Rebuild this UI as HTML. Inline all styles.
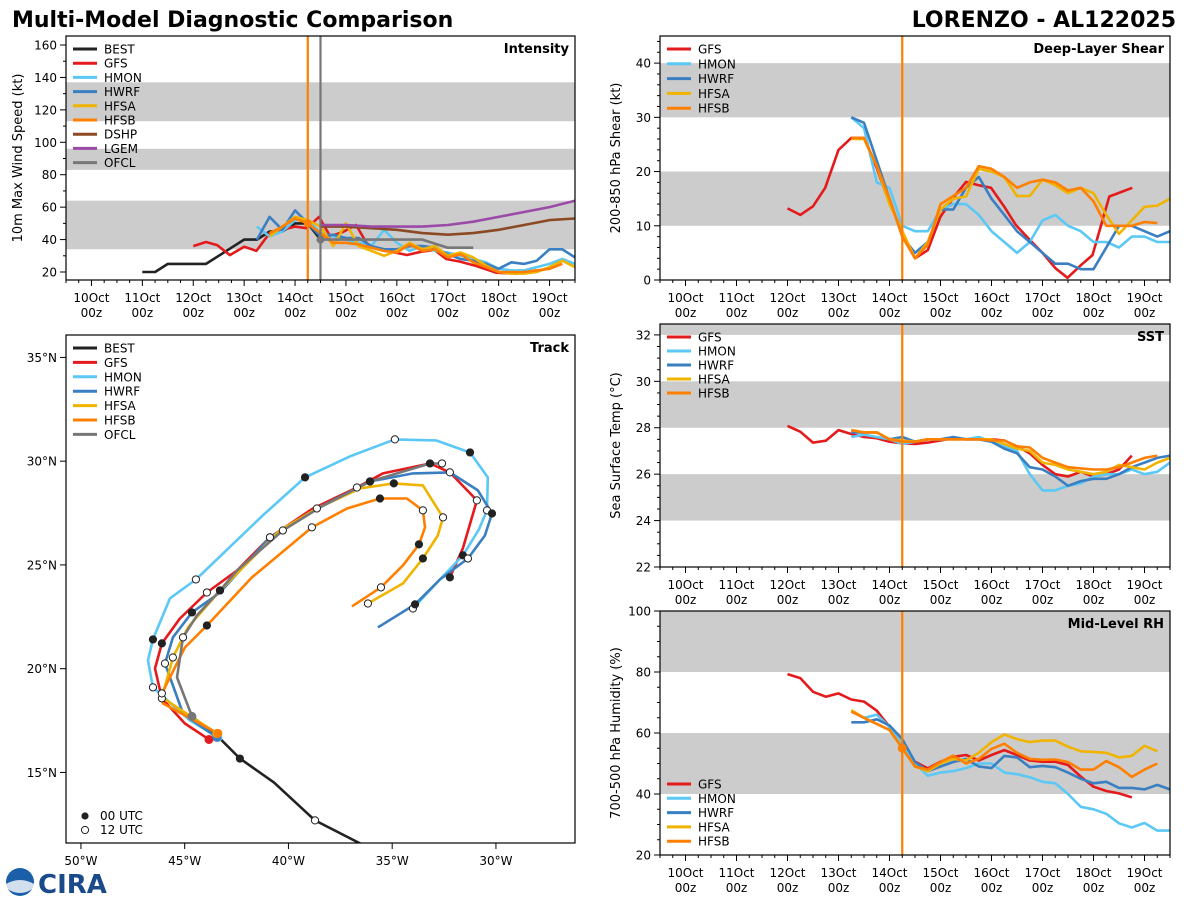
<!DOCTYPE html>
<html><head><meta charset="utf-8"><style>
body{margin:0;background:#fff}
svg{display:block;font-family:"DejaVu Sans","Liberation Sans",sans-serif}
</style></head><body>
<svg id="s" width="1200" height="900" xmlns="http://www.w3.org/2000/svg">
<text x="12" y="27" font-size="22" font-weight="bold">Multi-Model Diagnostic Comparison</text>
<text x="1176" y="27" font-size="22" font-weight="bold" text-anchor="end">LORENZO - AL122025</text>
<g>
<circle cx="20" cy="882" r="14" fill="#1a5fa8"/><path d="M6 884 Q20 876 34 884 L34 888 Q20 898 6 888Z" fill="#fff" opacity="0.8"/>
<text x="38" y="893" font-size="26" font-weight="bold" fill="#1a4a8a">CIRA</text>
</g>
</svg>
<script>
const C={BEST:'#222222',GFS:'#e41a1c',HMON:'#5bc8f5',HWRF:'#3a7fc1',HFSA:'#f0b400',HFSB:'#ff7f00',DSHP:'#8b4a24',LGEM:'#9b4aa8',OFCL:'#777777'};
// Intensity (kt)
const intBestD=[11,11.25,11.5,11.75,12,12.25,12.5,12.75,13,13.25,13.5,13.75,14,14.25,14.5];
const intBestV=[20,20,25,25,25,25,30,35,40,40,45,45,50,50,40];
const intGfsD=[12,12.25,12.47,12.72,13,13.24,13.5,13.74,14,14.23,14.47,14.69,14.94,15.2,15.43,15.72,16.2,16.48,16.74,16.97,17.24,17.56,17.95,18.35,18.74];
const intGfsV=[36,38.5,36.6,30.4,35.6,33,44,46,48,47,54,42,44.7,49,36.6,33.6,30.5,32.5,33.6,28,26.4,23.7,19.6,19,21];
const intHmonD=[13.25,13.5,13.75,14,14.25,14.5,14.75,15,15.25,15.5,15.75,16,16.25,16.5,16.75,17,17.25,17.5,17.75,18,18.25,18.5,18.75,19,19.25,19.5];
const intHmonV=[48,42,45,52,52,44,42,40,38,36,46,38,33,36,33,32,30,28,26,22,21,21,23,25,28,25];
const intHwrfD=intHmonD;
const intHwrfV=[40,54,46,58,50,42,43,41,41,36,34,34,36,36,35,31,28,27,25,22,26,25,27,34,34,29];
const intHfsaD=[13.5,13.75,14,14.25,14.5,14.75,15,15.25,15.5,15.75,16,16.25,16.5,16.75,17,17.25,17.5,17.75,18,18.25,18.5,18.75,19,19.25,19.5];
const intHfsaV=[42,48,54,52,48,36,50,36,33,30,33,38,34,36,30,32,29,24,20,19,19,20,23,27,23];
const intHfsbD=[13.5,13.75,14,14.25,14.5,14.75,15,15.25,15.5,15.75,16,16.25,16.5,16.75,17,17.25,17.5,17.75,18,18.25,18.5,18.75,19,19.25];
const intHfsbV=[44,48,53,50,44,38,38,37,35,33,32,37,33,34,29,31,26,23,20,20,20,21,22,25];
const intDshpD=[14.5,15,15.5,16,16.5,17,17.5,18,18.5,19,19.5];
const intDshpV=[48,48,47,46,44,43,44,46,49,52,53];
const intLgemD=intDshpD;
const intLgemV=[49,49,48,48,48,49,51,54,57,60,64];
const intOfclD=[14.5,15,15.5,16,16.5,17,17.5];
const intOfclV=[40,40,40,40,40,35,35];
// Shear (kt)
const shGfsD=[12,12.25,12.5,12.74,13,13.25,13.5,13.74,13.98,14.25,14.5,14.75,15,15.27,15.5,15.74,15.99,16.25,16.48,16.75,17,17.25,17.49,17.76,17.98,18.31,18.76];
const shGfsV=[13.2,12,13.6,17,24,26.2,26.2,20.9,14.7,8.9,4,5.5,11.7,15.4,18.1,17.5,17,13.5,10.1,7.4,5,2.2,0.4,2.8,4.6,15.4,17];
const shD=[13.25,13.5,13.75,14,14.25,14.5,14.75,15,15.25,15.5,15.75,16,16.25,16.5,16.75,17,17.25,17.5,17.75,18,18.25,18.5,18.75,19,19.25,19.5];
const shHwrfV=[30,29,22,15,8,5,7,13,13,17,19,15,12,9,7,5,3,3,2,2,6,10,10,9,8,9];
const shHmonV=[30,28,18,17,10,9,9,13,14,14,12,9,7,5,7,11,12,10,9,7,7,6,8,8,7,7];
const shHfsaV=[26,26,21,14,9,4,7,13,15,15.4,20.5,20,19,15.5,15.5,18.5,17.5,16,17,16,12,8.5,11,13.5,13.7,15];
const shHfsbV=[26.2,26.2,21,15,8,4,6.5,14,15.5,17,21,20.5,19,17,18,18.5,18,16.5,17,14.5,10,10,10,10.7,10.5];
// SST (C)
const sstGfsD=[12,12.25,12.5,12.75,13,13.25,13.5,13.75,14,14.25,14.5,14.75,15,15.25,15.5,15.75,16,16.25,16.5,16.75,17,17.25,17.5,17.75,18,18.25,18.5,18.75];
const sstGfsV=[28.08,27.83,27.36,27.44,27.9,27.73,27.6,27.55,27.4,27.33,27.3,27.36,27.45,27.55,27.5,27.5,27.5,27.45,27.2,26.9,26.4,26.0,25.9,26.1,25.9,26.0,26.2,26.8];
const sstHmonV=[27.6,27.7,27.6,27.5,27.3,27.4,27.5,27.5,27.5,27.5,27.6,27.4,27.2,27.0,26.0,25.3,25.3,25.5,25.6,25.9,26.0,26.0,26.2,26.0,26.1,26.5];
const sstHwrfV=[27.8,27.8,27.8,27.5,27.6,27.4,27.5,27.5,27.6,27.5,27.5,27.4,27.1,26.9,26.3,26.2,25.9,25.5,25.7,25.8,25.8,26.0,26.3,26.5,26.7,26.8];
const sstHfsaV=[27.9,27.8,27.8,27.5,27.45,27.4,27.5,27.5,27.5,27.5,27.5,27.5,27.3,27.1,27.0,26.5,26.4,26.2,26.1,26.0,26.1,26.4,26.3,26.2,26.5,26.7];
const sstHfsbV=[27.9,27.8,27.8,27.5,27.4,27.4,27.5,27.5,27.5,27.5,27.5,27.45,27.45,27.2,27.15,26.7,26.5,26.3,26.25,26.2,26.2,26.3,26.5,26.7,26.8];
// RH (%)
const rhGfsV=[79.3,78,73.5,71.9,73,71,70.3,67.3,62,56,50.6,48.4,50.6,52.2,52.8,51,52.8,54.4,52.8,51,50.6,50.6,49.5,45.7,42.4,41,40.2,38.9];
const rhHmonV=[67,65,66,62,56,50,46,47,47.5,48.5,50,50,47,46.5,45.5,44,43.5,40,35.8,35,33.5,30.4,29,30.5,28,28];
const rhHwrfV=[63.5,63.5,64.5,62.5,58,50.5,47.5,49,50.5,51.5,49,48.5,52.5,52,48.8,49.2,48.8,47,45,43.5,44,42,42,41.5,43,41.5];
const rhHfsaV=[67.5,65,63,61,55,49,47.5,50,51.5,51,53.5,57,59.5,58,57,57.5,57.5,55.5,54,53.8,53.5,52,52.5,55.8,54];
const rhHfsbV=[67,65,63,61,55,49,48,50.5,52.6,50,51.5,54.8,56.5,53.5,51.5,51.2,51.3,50.5,48,48,50.8,48.8,45.6,48,50];
// Track (lon, lat)
const trBestLon=[-35.6,-36.55,-38.72,-40.7,-42.34,-43.4,-44.65];
const trBestLat=[10.9,11.58,12.69,14.52,15.67,16.73,17.70];
const trGfsLon=[-43.83,-44.99,-46.10,-46.43,-46.10,-45.23,-43.93,-42.48,-40.89,-38.82,-36.70,-35.45,-33.18,-32.22,-30.92,-31.59,-32.22];
const trGfsLat=[16.59,17.36,18.57,20.01,21.22,22.42,23.67,24.73,26.33,27.72,28.73,29.41,29.89,29.46,28.11,25.80,24.40];
const trHmonLon=[-43.40,-44.75,-46.53,-46.77,-46.53,-45.71,-44.46,-41.23,-39.20,-37.04,-34.87,-32.89,-31.25,-30.39,-30.43,-30.82,-31.59,-32.70,-34.0];
const trHmonLat=[16.69,17.51,19.10,20.40,21.41,23.39,24.30,27.39,29.22,30.23,31.05,31.00,30.42,29.22,27.63,26.71,25.46,24.30,22.90];
const trHwrfLon=[-43.45,-45.08,-45.95,-45.57,-44.65,-43.30,-40.89,-38.63,-36.07,-34.0,-32.22,-30.87,-30.19,-30.53,-31.35,-32.70,-33.90,-35.69];
const trHwrfLat=[16.69,17.84,20.25,21.51,22.71,23.67,26.33,27.72,29.02,29.41,29.46,28.59,27.48,26.42,25.31,24.30,23.10,21.99];
const trHfsaLon=[-43.45,-46.10,-45.57,-44.84,-43.30,-40.41,-38.63,-36.55,-34.92,-33.52,-32.55,-32.80,-33.52,-34.48,-36.17];
const trHfsaLat=[16.88,18.61,20.54,21.99,23.77,26.66,27.72,28.69,28.93,28.83,27.29,26.42,25.31,24.11,23.14];
const trHfsbLon=[-43.40,-46.05,-46.10,-44.99,-43.93,-41.76,-38.87,-37.18,-35.59,-34.29,-33.52,-33.42,-33.71,-34.48,-35.54,-36.94];
const trHfsbLat=[16.88,18.33,18.81,21.02,22.08,24.40,26.81,27.72,28.20,28.20,27.63,26.81,25.99,24.98,23.92,23.0];
const trOfclLon=[-44.65,-45.37,-45.08,-44.41,-43.30,-42.48,-40.27,-38.48,-36.07,-33.18,-32.60];
const trOfclLat=[17.70,19.58,21.51,22.57,23.77,24.73,26.66,27.77,29.02,29.89,29.89];
const dayTicks=['10Oct','11Oct','12Oct','13Oct','14Oct','15Oct','16Oct','17Oct','18Oct','19Oct'];
const lonTicks=[-50,-45,-40,-35,-30];
const latTicks=[15,20,25,30,35];

const svg=document.getElementById('s');
const NS='http://www.w3.org/2000/svg';
function mk(tag,a,parent){const e=document.createElementNS(NS,tag);for(const k in a)e.setAttribute(k,a[k]);(parent||svg).appendChild(e);return e;}
let clipN=0;
function panel(p){
  const g=mk('g',{});
  
  
  p.g=g;
  p.sx=v=>p.x0+(v-p.xmin)/(p.xmax-p.xmin)*(p.x1-p.x0);
  p.sy=v=>p.y1-(v-p.ymin)/(p.ymax-p.ymin)*(p.y1-p.y0);
  const id='c'+(clipN++);
  const cp=mk('clipPath',{id:id},g);mk('rect',{x:p.x0,y:p.y0,width:p.x1-p.x0,height:p.y1-p.y0},cp);
  p.inner=mk('g',{'clip-path':'url(#'+id+')'},g);
  (p.bands||[]).forEach(b=>{const r=mk('rect',{x:p.x0,y:p.sy(b[1]),width:p.x1-p.x0,height:p.sy(b[0])-p.sy(b[1]),fill:'#cccccc'},p.inner);
    });
  return p;
}
function frame(p){mk('rect',{x:p.x0,y:p.y0,width:p.x1-p.x0,height:p.y1-p.y0,fill:'none',stroke:'#000','stroke-width':1.2},p.g);}
function line(p,xs,ys,col,w,name){
  const pts=xs.map((x,i)=>p.sx(x).toFixed(1)+','+p.sy(ys[i]).toFixed(1)).join(' ');
  const l=mk('polyline',{points:pts,fill:'none',stroke:col,'stroke-width':w||2.6,'stroke-linejoin':'round'},p.inner);
  
  
  return l;
}
function dayAxis(p){
  for(let d=p.xmin;d<=p.xmax+1e-6;d+=0.25){const x=p.sx(d);const maj=Math.abs(d-Math.round(d))<1e-6;
    mk('line',{x1:x,x2:x,y1:p.y1,y2:p.y1+(maj?6:3),stroke:'#000','stroke-width':1},p.g);}
  dayTicks.forEach((t,i)=>{const x=p.sx(10+i);
    const a=mk('text',{x:x,y:p.y1+22,'font-size':12,'text-anchor':'middle'},p.g);a.textContent=t;
    
    const b=mk('text',{x:x,y:p.y1+37,'font-size':12,'text-anchor':'middle'},p.g);b.textContent='00z';
    });
}
function yAxis(p,step,minor,title,tx){
  for(let v=Math.ceil(p.ymin/minor)*minor;v<=p.ymax+1e-6;v+=minor){const y=p.sy(v);const maj=Math.abs(v/step-Math.round(v/step))<1e-6;
    mk('line',{x1:p.x0,x2:p.x0-(maj?6:3),y1:y,y2:y,stroke:'#000','stroke-width':1},p.g);
    if(maj){const t=mk('text',{x:p.x0-9,y:y+4.5,'font-size':12,'text-anchor':'end'},p.g);t.textContent=Math.round(v);
      }}
  const cy=(p.y0+p.y1)/2;const t=mk('text',{x:tx,y:cy,'font-size':13,'text-anchor':'middle',transform:'rotate(-90 '+tx+' '+cy+')'},p.g);t.textContent=title;
  
}
function ptitle(p,txt){const t=mk('text',{x:p.x1-6,y:p.y0+17,'font-size':13,'font-weight':'bold','text-anchor':'end'},p.g);t.textContent=txt;
  }
function legend(p,names,dy){
  names.forEach((n,i)=>{const y=p.y0+13+i*dy;
    const g=mk('g',{},p.g);
    
    
    mk('line',{x1:p.x0+7,x2:p.x0+31,y1:y,y2:y,stroke:C[n],'stroke-width':3},g);
    const t=mk('text',{x:p.x0+38,y:y+4.5,'font-size':12},g);t.textContent=n;});
}
function vline(p,d,col){const x=p.sx(d);const l=mk('line',{x1:x,x2:x,y1:p.y0,y2:p.y1,stroke:col,'stroke-width':2.2},p.inner);
  }

// Intensity
const P1=panel({name:'intensity-panel',x0:66,x1:575,y0:36,y1:280,xmin:9.5,xmax:19.5,ymin:15.07,ymax:165.55,bands:[[34,64],[83,96],[113,137]]});
line(P1,intBestD,intBestV,C.BEST,2.6,'best-intensity-line');
line(P1,intGfsD,intGfsV,C.GFS,2.6,'gfs-intensity-line');
line(P1,intHmonD,intHmonV,C.HMON,2.6,'hmon-intensity-line');
line(P1,intHwrfD,intHwrfV,C.HWRF,2.6,'hwrf-intensity-line');
line(P1,intHfsaD,intHfsaV,C.HFSA,2.6,'hfsa-intensity-line');
line(P1,intHfsbD,intHfsbV,C.HFSB,2.6,'hfsb-intensity-line');
line(P1,intDshpD,intDshpV,C.DSHP,2.6,'dshp-intensity-line');
line(P1,intLgemD,intLgemV,C.LGEM,2.6,'lgem-intensity-line');
line(P1,intOfclD,intOfclV,C.OFCL,2.6,'ofcl-intensity-line');
vline(P1,14.25,'#ff7f00');vline(P1,14.5,'#777');
mk('circle',{cx:P1.sx(14.25),cy:P1.sy(50),r:4,fill:'#ff7f00'},P1.inner);
mk('circle',{cx:P1.sx(14.5),cy:P1.sy(40),r:4,fill:'#777'},P1.inner);
frame(P1);dayAxis(P1);yAxis(P1,20,10,'10m Max Wind Speed (kt)',22);ptitle(P1,'Intensity');
legend(P1,['BEST','GFS','HMON','HWRF','HFSA','HFSB','DSHP','LGEM','OFCL'],14.2);

// Shear
const P2=panel({name:'shear-panel',x0:660,x1:1170,y0:36,y1:280,xmin:9.5,xmax:19.5,ymin:0,ymax:45,bands:[[10,20],[30,40]]});
line(P2,shGfsD,shGfsV,C.GFS,2.6,'gfs-shear-line');
line(P2,shD,shHmonV,C.HMON,2.6,'hmon-shear-line');
line(P2,shD,shHwrfV,C.HWRF,2.6,'hwrf-shear-line');
line(P2,shD,shHfsaV,C.HFSA,2.6,'hfsa-shear-line');
line(P2,shD.slice(0,shHfsbV.length),shHfsbV,C.HFSB,2.6,'hfsb-shear-line');
vline(P2,14.25,'#ff7f00');
frame(P2);dayAxis(P2);yAxis(P2,10,2,'200-850 hPa Shear (kt)',620);ptitle(P2,'Deep-Layer Shear');
legend(P2,['GFS','HMON','HWRF','HFSA','HFSB'],14.8);

// SST
const P3=panel({name:'sst-panel',x0:660,x1:1170,y0:324,y1:567,xmin:9.5,xmax:19.5,ymin:22,ymax:32.47,bands:[[24,26],[28,30],[32,33]]});
line(P3,sstGfsD,sstGfsV,C.GFS,2.6,'gfs-sst-line');
line(P3,shD,sstHmonV,C.HMON,2.6,'hmon-sst-line');
line(P3,shD,sstHwrfV,C.HWRF,2.6,'hwrf-sst-line');
line(P3,shD,sstHfsaV,C.HFSA,2.6,'hfsa-sst-line');
line(P3,shD.slice(0,sstHfsbV.length),sstHfsbV,C.HFSB,2.6,'hfsb-sst-line');
vline(P3,14.25,'#ff7f00');
frame(P3);dayAxis(P3);yAxis(P3,2,0.5,'Sea Surface Temp (°C)',620);ptitle(P3,'SST');
legend(P3,['GFS','HMON','HWRF','HFSA','HFSB'],14);

// RH
const P4=panel({name:'rh-panel',x0:660,x1:1170,y0:611,y1:855,xmin:9.5,xmax:19.5,ymin:20,ymax:100,bands:[[40,60],[80,100]]});
line(P4,sstGfsD,rhGfsV,C.GFS,2.6,'gfs-rh-line');
line(P4,shD,rhHmonV,C.HMON,2.6,'hmon-rh-line');
line(P4,shD,rhHwrfV,C.HWRF,2.6,'hwrf-rh-line');
line(P4,shD.slice(0,rhHfsaV.length),rhHfsaV,C.HFSA,2.6,'hfsa-rh-line');
line(P4,shD.slice(0,rhHfsbV.length),rhHfsbV,C.HFSB,2.6,'hfsb-rh-line');
vline(P4,14.25,'#ff7f00');
mk('circle',{cx:P4.sx(14.25),cy:P4.sy(55),r:4.5,fill:'#ff7f00'},P4.inner);
frame(P4);dayAxis(P4);yAxis(P4,20,5,'700-500 hPa Humidity (%)',620);ptitle(P4,'Mid-Level RH');
{const save=P4.y0;P4.y0=771;legend(P4,['GFS','HMON','HWRF','HFSA','HFSB'],14.3);P4.y0=save;}

// Track
const P5=panel({name:'track-panel',x0:66,x1:575,y0:335,y1:843,xmin:-50.72,xmax:-26.19,ymin:11.6,ymax:36.08,bands:[]});
const tracks=[['BEST',trBestLon,trBestLat],['GFS',trGfsLon,trGfsLat],['HMON',trHmonLon,trHmonLat],['HWRF',trHwrfLon,trHwrfLat],['HFSA',trHfsaLon,trHfsaLat],['HFSB',trHfsbLon,trHfsbLat],['OFCL',trOfclLon,trOfclLat]];
tracks.forEach(t=>line(P5,t[1],t[2],C[t[0]],2.6,t[0].toLowerCase()+'-track-line'));
tracks.forEach(t=>{t[1].forEach((lo,i)=>{if(i===0&&t[0]!=='BEST')return;if(i%2)return;
  const c=mk('circle',{cx:P5.sx(lo),cy:P5.sy(t[2][i]),r:3.6,fill:(i%4===0)?'#222':'#fff',stroke:'#222','stroke-width':1},P5.inner);
  });});
tracks.slice(1).forEach(t=>mk('circle',{cx:P5.sx(t[1][0]),cy:P5.sy(t[2][0]),r:4.5,fill:C[t[0]]},P5.inner));
frame(P5);
lonTicks.forEach(v=>{const x=P5.sx(v);mk('line',{x1:x,x2:x,y1:P5.y1,y2:P5.y1+6,stroke:'#000'},P5.g);
  const t=mk('text',{x:x,y:P5.y1+22,'font-size':12,'text-anchor':'middle'},P5.g);t.textContent=(-v)+'°W';
  });
latTicks.forEach(v=>{const y=P5.sy(v);mk('line',{x1:P5.x0,x2:P5.x0-6,y1:y,y2:y,stroke:'#000'},P5.g);
  const t=mk('text',{x:P5.x0-9,y:y+4.5,'font-size':12,'text-anchor':'end'},P5.g);t.textContent=v+'°N';
  });
ptitle(P5,'Track');
legend(P5,['BEST','GFS','HMON','HWRF','HFSA','HFSB','OFCL'],14.4);
mk('circle',{cx:85,cy:816,r:3.6,fill:'#222'},P5.g);
{const t=mk('text',{x:100,y:820,'font-size':12},P5.g);t.textContent='00 UTC';}
mk('circle',{cx:85,cy:830,r:3.6,fill:'#fff',stroke:'#222'},P5.g);
{const t=mk('text',{x:100,y:834,'font-size':12},P5.g);t.textContent='12 UTC';}
</script>
</body></html>
